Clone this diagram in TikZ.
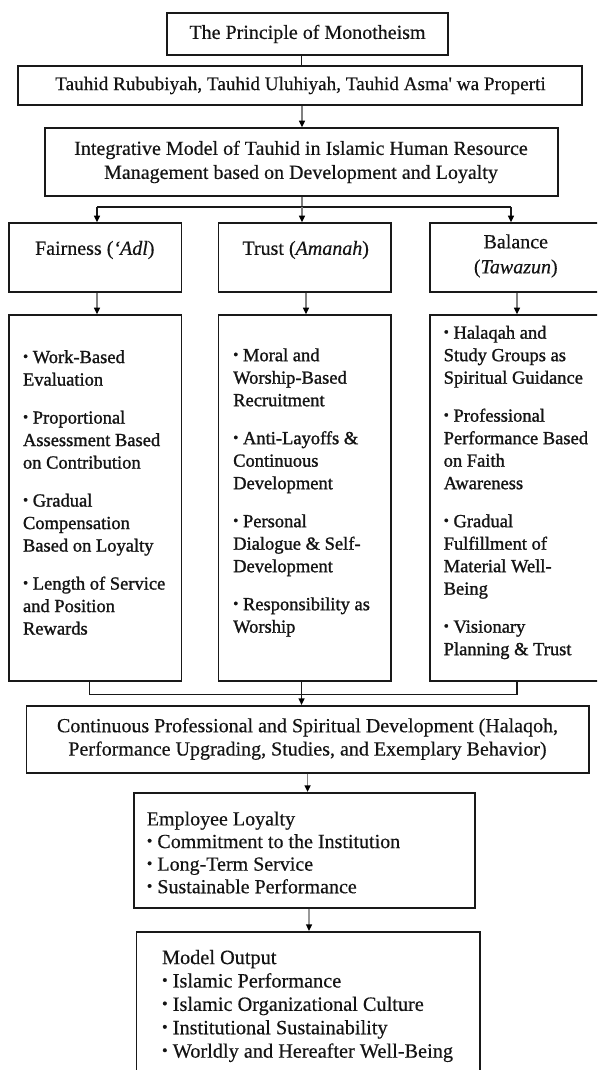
\documentclass[tikz,border=0pt]{standalone}
\usepackage{fontspec}
\setmainfont{Liberation Serif}[FakeBold=0.4]
\newfontfamily\itemfont{Liberation Serif}[FakeBold=1.2]
\usepackage{graphicx}
\usetikzlibrary{arrows.meta}
% small bullet used in the item lists
\newcommand{\bul}{\raisebox{0.1em}{\scalebox{0.8}{•}}\ }
\begin{document}
\begin{tikzpicture}[x=1pt,y=-1pt,
  box/.style={draw=black!90, line width=1.7pt, rectangle, inner sep=0pt},
  lbl/.style={inner sep=0pt, font=\fontsize{20}{24}\selectfont, align=center, text=black!92},
  coltext/.style={inner sep=0pt, font=\itemfont\fontsize{18.5}{22.5}\selectfont, align=left, text=black!92},
  ln/.style={line width=1.3pt, draw=black!90},
  gln/.style={line width=1.3pt, draw=black!50},
  arr/.style={ln, -{Triangle[width=6pt,length=6.5pt,color=black]}},
  garr/.style={gln, -{Triangle[width=6pt,length=6.5pt,color=black]}}
]
\useasboundingbox (0,0) rectangle (597,1070);
\clip (0,0) rectangle (597,1070);
\fill[white] (0,0) rectangle (597,1070);

% --- top chain ---
\node[box, minimum width=281pt, minimum height=42pt] (b1) at (307.5,34) {};
\node[lbl] (t1) at (307.5,34) {The Principle of Monotheism};

\node[box, minimum width=564pt, minimum height=39pt] (b2) at (300,85.5) {};
\node[lbl, font=\fontsize{19.2}{24}\selectfont] (t2) at (300.5,85.5) {Tauhid Rububiyah, Tauhid Uluhiyah, Tauhid Asma\textquotesingle{} wa Properti};

\node[box, minimum width=513pt, minimum height=68pt] (b3) at (301.5,162) {};
\node[lbl] (t3) at (301,162) {Integrative Model of Tauhid in Islamic Human Resource\\Management based on Development and Loyalty};

% --- three principles ---
\node[box, minimum width=172.5pt, minimum height=69pt] (hF) at (95.25,257.5) {};
\node[box, minimum width=172.2pt, minimum height=69pt] (hT) at (304.6,257.5) {};
\node[box, minimum width=172pt, minimum height=69pt] (hB) at (516,257.5) {};
\node[lbl] (tF) at (94.8,250) {Fairness (\textit{‘Adl})};
\node[lbl] (tT) at (305.7,250) {Trust (\textit{Amanah})};
\node[lbl, font=\fontsize{20}{25}\selectfont] (tB) at (515.8,256) {Balance\\(\textit{Tawazun})};

% --- item columns ---
\node[box, minimum width=172.5pt, minimum height=366pt] (cF) at (95.25,498) {};
\node[box, minimum width=172.2pt, minimum height=366pt] (cT) at (304.6,498) {};
\node[box, minimum width=172pt, minimum height=366pt] (cB) at (516,498) {};

\node[coltext, anchor=west] (lF) at (22.8,492.5) {\bul Work-Based\\Evaluation\\[15.5pt]%
\bul Proportional\\Assessment Based\\on Contribution\\[15.5pt]%
\bul Gradual\\Compensation\\Based on Loyalty\\[15.5pt]%
\bul Length of Service\\and Position\\Rewards};

\node[coltext, anchor=west] (lT) at (233,492.5) {\bul Moral and\\Worship-Based\\Recruitment\\[15.5pt]%
\bul Anti-Layoffs \&\\Continuous\\Development\\[15.5pt]%
\bul Personal\\Dialogue \& Self-\\Development\\[15.5pt]%
\bul Responsibility as\\Worship};

\node[coltext, anchor=west] (lB) at (443.5,492.5) {\bul Halaqah and\\Study Groups as\\Spiritual Guidance\\[15.5pt]%
\bul Professional\\Performance Based\\on Faith\\Awareness\\[15.5pt]%
\bul Gradual\\Fulfillment of\\Material Well-\\Being\\[15.5pt]%
\bul Visionary\\Planning \& Trust};

% --- development, loyalty, output ---
\node[box, minimum width=562.4pt, minimum height=67pt] (cd) at (307.8,739.2) {};
\node[lbl, font=\fontsize{20}{23.3}\selectfont] (tcd) at (307.5,739) {Continuous Professional and Spiritual Development (Halaqoh,\\Performance Upgrading, Studies, and Exemplary Behavior)};

\node[box, minimum width=341pt, minimum height=115pt] (el) at (304.5,850.2) {};
\node[lbl, font=\fontsize{20}{22.6}\selectfont, align=left, anchor=west] (tel) at (146.6,852.5) {Employee Loyalty\\\bul Commitment to the Institution\\\bul Long-Term Service\\\bul Sustainable Performance};

\node[box, minimum width=343.3pt, minimum height=153.3pt] (mo) at (308,1008.35) {};
\node[lbl, font=\fontsize{20.3}{23.4}\selectfont, align=left, anchor=west] (tmo) at (161.8,1006) {Model Output\\\bul Islamic Performance\\\bul Islamic Organizational Culture\\\bul Institutional Sustainability\\\bul Worldly and Hereafter Well-Being};

% --- connectors, top part ---
\coordinate (k1) at (301.5,0);
\draw[ln] (b1.south -| k1) -- (b2.north -| k1);
\coordinate (k2) at (302,0);
\draw[garr] (b2.south -| k2) -- (b3.north -| k2);

\coordinate (br) at (302,207);
\coordinate (aF) at (97,207);
\coordinate (aB) at (511,207);
\draw[gln] (b3.south -| br) -- (br);
\draw[ln] (aF) -- (aB);
\draw[arr] (aF) -- (aF |- hF.north);
\draw[garr] (br) -- (br |- hT.north);
\draw[arr] (aB) -- (aB |- hB.north);

% --- principles to item columns ---
\coordinate (dF) at (97,0);
\coordinate (dT) at (306,0);
\coordinate (dB) at (517,0);
\draw[garr] (hF.south -| dF) -- (cF.north -| dF);
\draw[garr] (hT.south -| dT) -- (cT.north -| dT);
\draw[garr] (hB.south -| dB) -- (cB.north -| dB);

% --- columns merge into development ---
\coordinate (mg) at (301.5,694.3);
\coordinate (mF) at (89.5,694.3);
\coordinate (mB) at (517,694.3);
\draw[ln] (cF.south -| mF) -- (mF) -- (mB) -- (cB.south -| mB);
\draw[ln] (cT.south -| mg) -- (mg);
\draw[arr] (mg) -- (mg |- cd.north);

% --- lower chain ---
\coordinate (k3) at (307.6,0);
\draw[garr] (cd.south -| k3) -- (el.north -| k3);
\coordinate (k4) at (309,0);
\draw[garr, draw=black!40] (el.south -| k4) -- (mo.north -| k4);
\end{tikzpicture}
\end{document}
